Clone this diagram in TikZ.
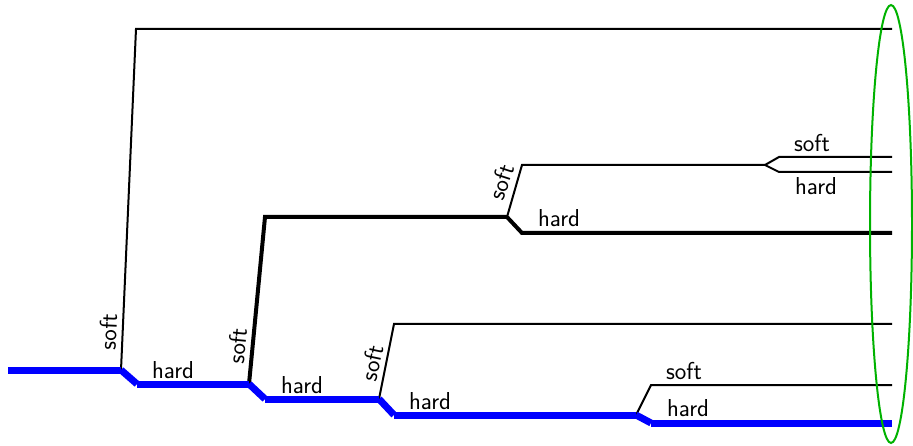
\documentclass[tikz,border=0pt]{standalone}
\begin{document}
\begin{tikzpicture}[x=1pt,y=-1pt,
  thinln/.style={draw=black,line width=2pt},
  thickln/.style={draw=black,line width=4pt},
  blueln/.style={draw=blue,line width=7pt},
  lbl/.style={font=\sffamily\fontsize{24.5}{28}\selectfont,inner sep=0pt,text=black},
  ring/.style={draw=green!70!black,line width=2pt}]
\useasboundingbox (0,0) rectangle (913,446);
% main (blue) path
\coordinate (b0) at (8,370);
\coordinate (b1) at (121,370);
\coordinate (b2) at (137,384);
\coordinate (b3) at (249,384);
\coordinate (b4) at (265,399);
\coordinate (b5) at (379,399);
\coordinate (b6) at (394,415);
\coordinate (b7) at (636,415);
\coordinate (b8) at (651,423);
\coordinate (b9) at (892,423);
% branch 1
\coordinate (s1t) at (136,29);
\coordinate (s1e) at (892,29);
% branch 2
\coordinate (s2t) at (265,217);
\coordinate (s2a) at (507,217);
\coordinate (s2s) at (522,165);
\coordinate (s2p) at (765,165);
\coordinate (s2u) at (779,157);
\coordinate (s2ue) at (892,157);
\coordinate (s2d) at (779,172);
\coordinate (s2de) at (892,172);
\coordinate (s2h) at (522,233);
\coordinate (s2he) at (892,233);
% branch 3
\coordinate (s3t) at (394,324);
\coordinate (s3e) at (892,324);
% branch 4
\coordinate (s4t) at (651,385);
\coordinate (s4e) at (892,385);

% soft branches
\draw[thinln] (b1) -- (s1t) -- (s1e);
\draw[thickln] (b3) -- (s2t) -- (s2a);
\draw[thinln] (s2a) -- (s2s) -- (s2p);
\draw[thinln] (s2p) -- (s2u) -- (s2ue);
\draw[thinln] (s2p) -- (s2d) -- (s2de);
\draw[thickln] (s2a) -- (s2h) -- (s2he);
\draw[thinln] (b5) -- (s3t) -- (s3e);
\draw[thinln] (b7) -- (s4t) -- (s4e);

% blue main path
\draw[blueln] (b0) -- (b1);
\draw[blueln] (b1) -- (b2);
\draw[blueln] (b2) -- (b3);
\draw[blueln] (b3) -- (b4);
\draw[blueln] (b4) -- (b5);
\draw[blueln] (b5) -- (b6);
\draw[blueln] (b6) -- (b7);
\draw[blueln] (b7) -- (b8);
\draw[blueln] (b8) -- (b9);

% labels
\node[lbl,rotate=87.5] (l1) at (108,332) {soft};
\node[lbl] (l2) at (173,370) {hard};
\node[lbl,rotate=84.5] (l3) at (237,346) {soft};
\node[lbl] (l4) at (302,385) {hard};
\node[lbl,rotate=78] (l5) at (372,363) {soft};
\node[lbl] (l6) at (430,401) {hard};
\node[lbl] (l7) at (684,371) {soft};
\node[lbl] (l8) at (688,408) {hard};
\node[lbl,rotate=72] (l9) at (501,182) {soft};
\node[lbl] (l10) at (559,218) {hard};
\node[lbl] (l11) at (812,143) {soft};
\node[lbl] (l12) at (816,186) {hard};

% green ellipse
\draw[ring] (891,224) ellipse [x radius=21, y radius=219];
\end{tikzpicture}
\end{document}
